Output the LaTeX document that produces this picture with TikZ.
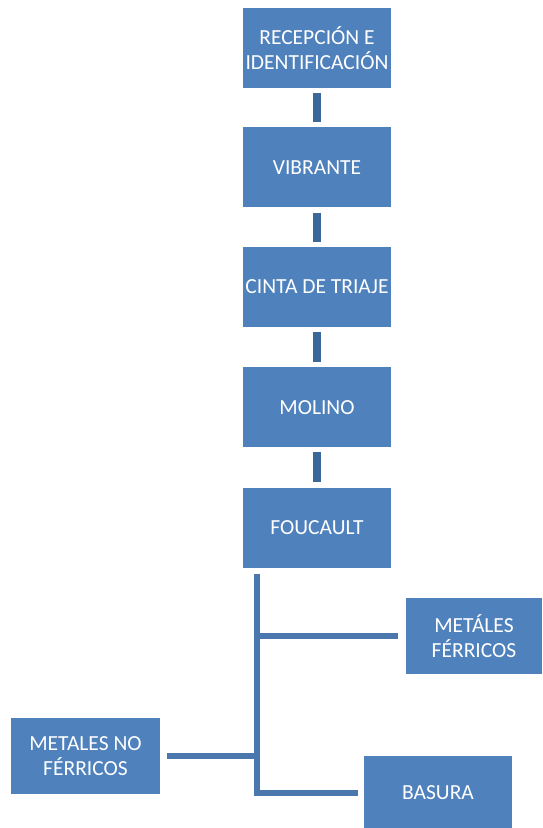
\documentclass[tikz,border=0pt]{standalone}
\usepackage{fontspec}
\setmainfont{Carlito}
\usepackage{xcolor}
\usetikzlibrary{positioning}
\definecolor{boxblue}{HTML}{4F81BD}
\definecolor{linkblue}{HTML}{3A6899}
\tikzset{
    blue-box/.style = {fill=boxblue, text=white, rectangle, inner sep=0pt, align=center, minimum width=148pt, minimum height=80pt, font=\fontsize{21.5}{25}\selectfont},
    short-link/.style = {draw=linkblue, line width=8pt, shorten <=5pt, shorten >=5pt},
    branch-link/.style = {draw=boxblue!92!black, line width=6pt},
}

\begin{document}
\begin{tikzpicture}[x=1pt,y=1pt]
\useasboundingbox (0,0) rectangle (542,-828);
\node [blue-box] (recepcion) at (317,-48) {RECEPCIÓN E\\IDENTIFICACIÓN};
\node [blue-box, below=39pt of recepcion] (vibrante) {VIBRANTE};
\node [blue-box, below=39pt of vibrante] (cinta) {CINTA DE TRIAJE};
\node [blue-box, below=40pt of cinta] (molino) {MOLINO};
\node [blue-box, below=40pt of molino] (foucault) {FOUCAULT};
\node [blue-box, minimum width=136pt, minimum height=76pt] (ferricos) at (474,-636) {METÁLES\\FÉRRICOS};
\node [blue-box, minimum width=149pt, minimum height=76pt] (noferricos) at (85.5,-756) {METALES NO\\FÉRRICOS};
\node [blue-box, minimum height=74pt] (basura) at (438,-793) {BASURA};

\draw [short-link] (recepcion) -- (vibrante);
\draw [short-link] (vibrante) -- (cinta);
\draw [short-link] (cinta) -- (molino);
\draw [short-link] (molino) -- (foucault);

% tronco de salida
\coordinate (trunk-top) at (257,-574);
\coordinate (trunk-bot) at (trunk-top |- basura.west);
\draw [branch-link] (trunk-top) -- (trunk-bot) -- ([xshift=-6pt]basura.west);
\draw [branch-link] (trunk-top |- ferricos.west) -- ([xshift=-8pt]ferricos.west);
\draw [branch-link] (trunk-top |- noferricos.east) -- ([xshift=7pt]noferricos.east);
\end{tikzpicture}
\end{document}
